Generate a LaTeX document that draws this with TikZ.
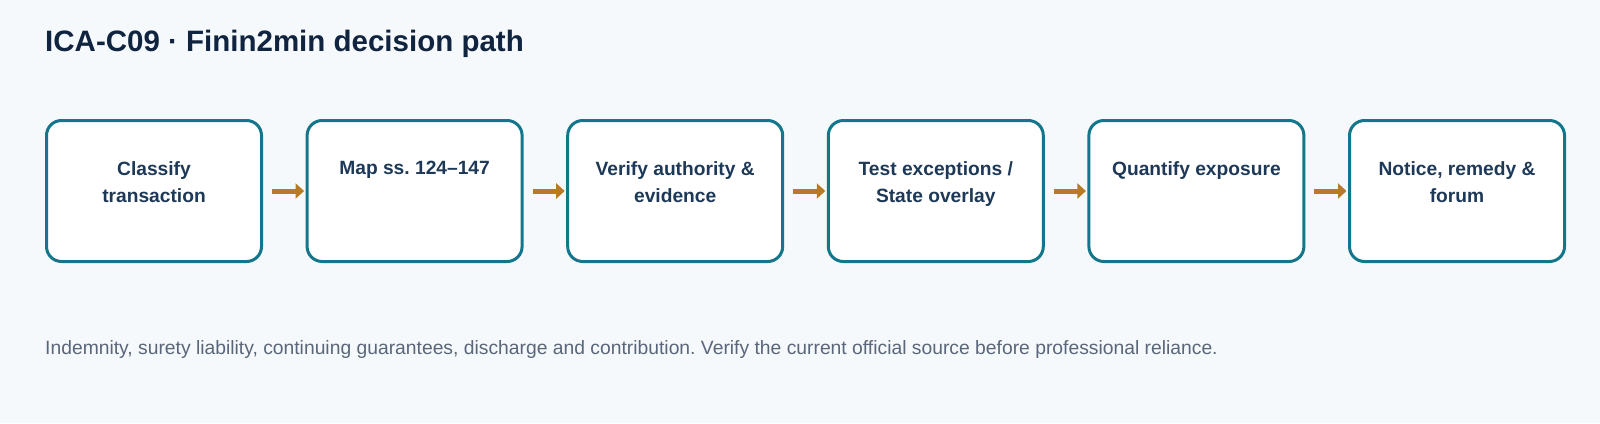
\documentclass[tikz,border=0pt]{standalone}
\usepackage{fontspec}
\setmainfont{Liberation Sans}
\frenchspacing
\usetikzlibrary{arrows.meta}
\definecolor{bgc}{HTML}{F6F9FB}
\definecolor{stroke}{HTML}{14768A}
\definecolor{arrc}{HTML}{B97A26}
\definecolor{titlec}{HTML}{10243F}
\definecolor{boxtxt}{HTML}{1E3957}
\definecolor{footc}{HTML}{5A6679}
\tikzset{
  stepbox/.style={draw=stroke, line width=3pt, fill=white, rounded corners=15pt,
    minimum width=215pt, minimum height=141pt, inner sep=0pt},
  boxtext/.style={anchor=north, inner sep=0pt, align=center, text=boxtxt,
    font=\fontsize{19.2}{27.5}\selectfont\bfseries},
  arr/.style={draw=arrc, line width=5pt, shorten <=9pt, shorten >=1.5pt,
    -{Triangle[length=8.5pt,width=15pt]}},
}
\begin{document}
\begin{tikzpicture}[x=1pt,y=-1pt]
\fill[bgc] (0,0) rectangle (1600,423);
\useasboundingbox (0,0) rectangle (1600,423);
\node[anchor=base west, inner sep=0pt, text=titlec, font=\fontsize{29.5}{34}\selectfont\bfseries] (title) at (45,51.5) {ICA-C09 · Finin2min decision path};
\foreach \i/\t in {1/{Classify\\transaction},2/{Map ss. 124–147},3/{Verify authority \&\\evidence},4/{Test exceptions /\\State overlay},5/{Quantify exposure},6/{Notice, remedy \&\\forum}}{
  \node[stepbox] (b\i) at ({154+(\i-1)*260.6},191) {};
  \node[boxtext] (t\i) at ({154+(\i-1)*260.6},161) {\t};
}
\foreach \a/\b in {1/2,2/3,3/4,4/5,5/6}{
  \draw[arr] (b\a.east) -- (b\b.west);
}
\node[anchor=base west, inner sep=0pt, text=footc, font=\fontsize{19.3}{23}\selectfont] (foot) at (45,354) {Indemnity, surety liability, continuing guarantees, discharge and contribution. Verify the current official source before professional reliance.};
\end{tikzpicture}
\end{document}
